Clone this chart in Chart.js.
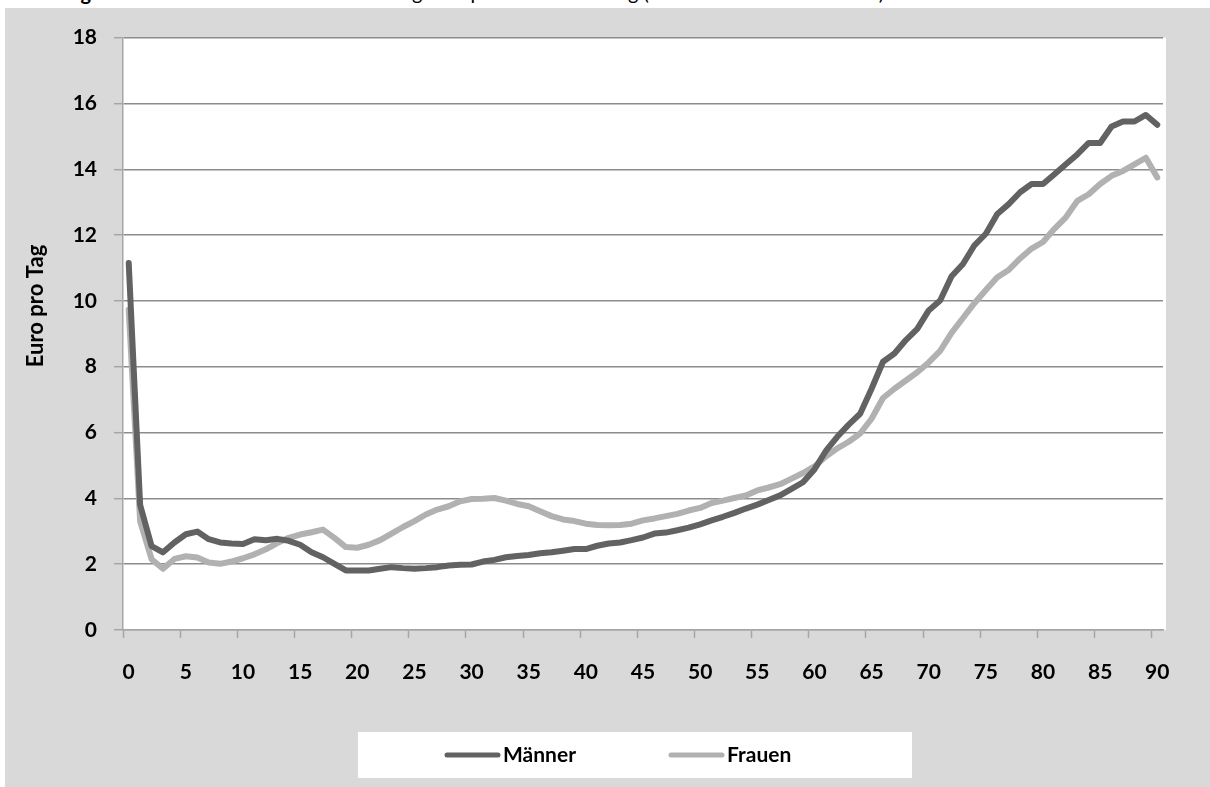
<!DOCTYPE html>
<html lang="de">
<head>
<meta charset="utf-8">
<title>Arzneimittelausgaben pro Person und Tag</title>
<script src="https://cdn.jsdelivr.net/npm/chart.js@4/dist/chart.umd.min.js"></script>
<style>
    html, body { margin: 0; padding: 0; background: #fff; overflow: hidden; }
    body { width: 1210px; height: 787px; position: relative; font-family: Lato, "Open Sans", sans-serif; }
    #caption {
        position: absolute; left: 0; top: -20px; width: 1210px;
        font-size: 20px; line-height: 24px; white-space: nowrap; color: #000;
    }
    #panel {
        position: absolute; left: 5px; top: 8px; width: 1205px; height: 779px;
        background: #d9d9d9;
    }
</style>
</head>
<body>
<div id="caption"><b>Abbildung 5:</b> Durchschnittliche Arzneimittelausgaben pro Person und Tag (nach Alter und Geschlecht)</div>
<div id="panel"><canvas id="chart" width="1205" height="779"></canvas></div>
<script>
// Alter 0..90
const ages = [];
for (let a = 0; a <= 90; a++) ages.push(String(a));

// Euro pro Tag
const maenner = [
    11.15, 3.8, 2.55, 2.36, 2.66, 2.91, 2.99, 2.76, 2.66, 2.63,
    2.61, 2.76, 2.73, 2.77, 2.71, 2.59, 2.36, 2.21, 2.01, 1.81,
    1.81, 1.81, 1.86, 1.91, 1.88, 1.86, 1.88, 1.91, 1.96, 1.98,
    1.99, 2.08, 2.13, 2.21, 2.25, 2.28, 2.33, 2.36, 2.41, 2.46,
    2.46, 2.56, 2.63, 2.66, 2.73, 2.81, 2.93, 2.96, 3.03, 3.11,
    3.21, 3.33, 3.44, 3.56, 3.69, 3.81, 3.95, 4.09, 4.29, 4.49,
    4.88, 5.44, 5.87, 6.24, 6.57, 7.33, 8.15, 8.4, 8.81, 9.15,
    9.71, 10.01, 10.75, 11.12, 11.69, 12.04, 12.64, 12.94, 13.3, 13.55,
    13.55, 13.85, 14.15, 14.45, 14.8, 14.8, 15.3, 15.45, 15.45, 15.65,
    15.35
];
const frauen = [
    9.73, 3.3, 2.15, 1.86, 2.16, 2.24, 2.2, 2.05, 2.01, 2.08,
    2.18, 2.3, 2.45, 2.64, 2.8, 2.9, 2.97, 3.05, 2.8, 2.52,
    2.5, 2.59, 2.73, 2.93, 3.13, 3.31, 3.51, 3.66, 3.76, 3.91,
    3.98, 3.99, 4.01, 3.93, 3.83, 3.76, 3.61, 3.46, 3.36, 3.31,
    3.23, 3.19, 3.18, 3.19, 3.23, 3.33, 3.39, 3.46, 3.53, 3.63,
    3.71, 3.86, 3.93, 4.01, 4.09, 4.24, 4.33, 4.43, 4.6, 4.77,
    4.97, 5.27, 5.52, 5.72, 5.97, 6.42, 7.05, 7.33, 7.58, 7.83,
    8.13, 8.48, 9.03, 9.48, 9.93, 10.33, 10.72, 10.94, 11.29, 11.59,
    11.79, 12.19, 12.54, 13.04, 13.24, 13.55, 13.8, 13.95, 14.15, 14.35,
    13.75
];

const FONT = 'Lato, "Open Sans", sans-serif';
const axisColor = '#a6a6a6';
const gridColor = '#8c8c8c';

// white plot area
const plotBgPlugin = {
    id: 'plotBg',
    beforeDraw(chart) {
        const { ctx, chartArea } = chart;
        ctx.save();
        ctx.fillStyle = '#fff';
        ctx.fillRect(chartArea.left, chartArea.top, chartArea.right - chartArea.left + 3, chartArea.bottom - chartArea.top);
        ctx.restore();
    }
};

// y axis title, drawn a bit above the plot centre like the original
const yTitlePlugin = {
    id: 'yTitle',
    afterDraw(chart) {
        const ctx = chart.ctx;
        ctx.save();
        ctx.translate(31, 298);
        ctx.rotate(-Math.PI / 2);
        ctx.font = 'bold 22px ' + FONT;
        ctx.fillStyle = '#000';
        ctx.textAlign = 'center';
        ctx.textBaseline = 'middle';
        ctx.fillText('Euro pro Tag', 0, 0);
        ctx.restore();
    }
};

// legend in a white box below the axis
const legendBoxPlugin = {
    id: 'legendBox',
    afterDraw(chart) {
        const ctx = chart.ctx;
        ctx.save();
        ctx.fillStyle = '#fff';
        ctx.fillRect(353, 724, 554, 46);
        const starts = [442, 666];
        chart.data.datasets.forEach((ds, i) => {
            const x = starts[i];
            const y = 747;
            ctx.strokeStyle = ds.borderColor;
            ctx.lineWidth = 5;
            ctx.lineCap = 'round';
            ctx.beginPath();
            ctx.moveTo(x, y);
            ctx.lineTo(x + 51, y);
            ctx.stroke();
            ctx.fillStyle = '#000';
            ctx.font = 'bold 21px ' + FONT;
            ctx.textAlign = 'left';
            ctx.textBaseline = 'middle';
            ctx.fillText(ds.label, x + 56, y);
        });
        ctx.restore();
    }
};

new Chart(document.getElementById('chart'), {
    type: 'line',
    data: {
        labels: ages,
        datasets: [
            {
                label: 'Männer',
                data: maenner,
                borderColor: '#626262',
                borderWidth: 6,
                borderJoinStyle: 'round',
                borderCapStyle: 'round',
                pointRadius: 0,
                tension: 0,
            },
            {
                label: 'Frauen',
                data: frauen,
                borderColor: '#b1b1b1',
                borderWidth: 6,
                borderJoinStyle: 'round',
                borderCapStyle: 'round',
                pointRadius: 0,
                tension: 0,
            }
        ]
    },
    options: {
        responsive: false,
        animation: false,
        layout: { padding: { top: 24, right: 47, bottom: 0, left: 0 } },
        plugins: {
            legend: { display: false },
            tooltip: { enabled: false },
        },
        scales: {
            x: {
                type: 'category',
                offset: true,
                afterFit: (scale) => { scale.height = 157; },
                grid: {
                    offset: true,
                    drawOnChartArea: false,
                    tickLength: 8,
                    tickWidth: 1.5,
                    tickColor: (c) => (c.index % 5 === 0 ? axisColor : 'rgba(0,0,0,0)'),
                },
                border: { color: axisColor, width: 1.5 },
                ticks: {
                    autoSkip: false,
                    maxRotation: 0,
                    padding: 22,
                    color: '#000',
                    font: { family: FONT, size: 21, weight: 'bold' },
                    callback: (val, i) => (i % 5 === 0 ? ages[i] : ''),
                },
            },
            y: {
                min: 0,
                max: 18,
                afterFit: (scale) => { scale.width = 118; },
                grid: {
                    color: (c) => (c.tick && c.tick.value === 0 ? axisColor : gridColor),
                    lineWidth: 1.4,
                    tickLength: 9,
                    tickColor: axisColor,
                    tickWidth: 1.5,
                },
                border: { color: axisColor, width: 1.5 },
                ticks: {
                    stepSize: 2,
                    padding: 17,
                    color: '#000',
                    font: { family: FONT, size: 21, weight: 'bold' },
                },
            },
        },
    },
    plugins: [plotBgPlugin, yTitlePlugin, legendBoxPlugin],
});
</script>
</body>
</html>
